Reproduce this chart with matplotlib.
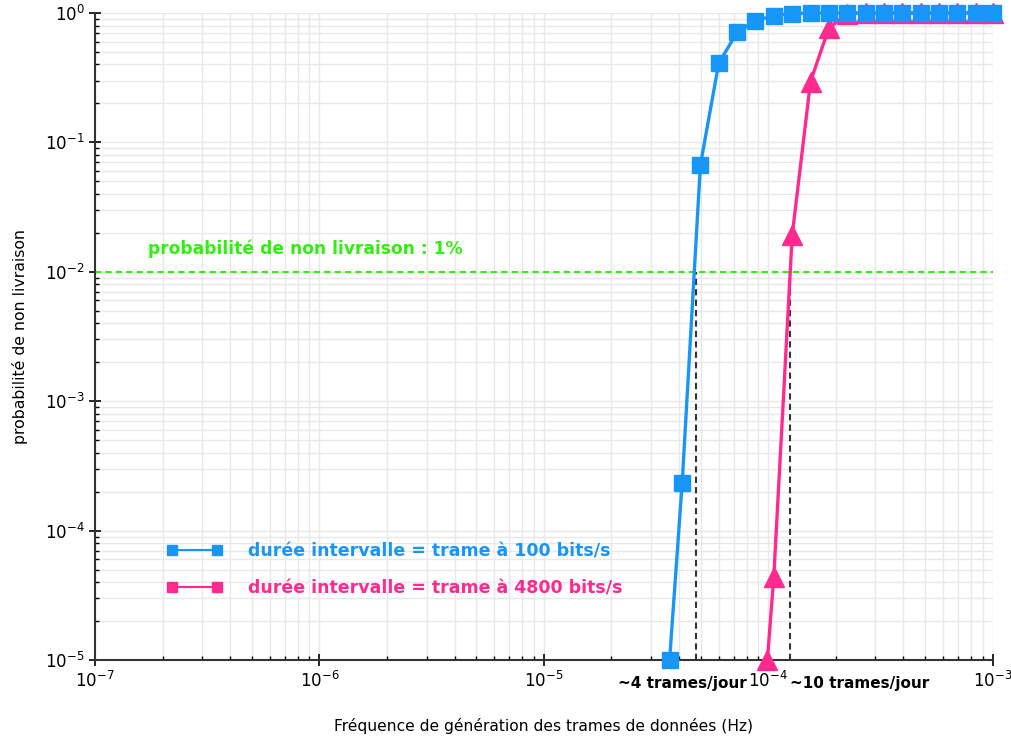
import matplotlib
matplotlib.use("Agg")
import matplotlib.pyplot as plt
from matplotlib.lines import Line2D
from matplotlib.transforms import blended_transform_factory

# frequence de generation (Hz) et probabilite de non livraison
freq_100 = [3.63e-5, 4.13e-5, 4.98e-5, 6.01e-5, 7.26e-5, 8.76e-5, 1.057e-4, 1.277e-4,
            1.541e-4, 1.859e-4, 2.245e-4, 2.709e-4, 3.269e-4, 3.950e-4, 4.766e-4,
            5.750e-4, 6.945e-4, 8.38e-4, 1.0e-3]
prob_100 = [1.0e-5, 2.33e-4, 0.0669, 0.409, 0.710, 0.869, 0.955, 0.99,
            0.997, 0.999, 1.0, 1.0, 1.0, 1.0, 1.0, 1.0, 1.0, 1.0, 1.0]

freq_4800 = [9.9e-5, 1.057e-4, 1.277e-4, 1.541e-4, 1.859e-4, 2.245e-4, 2.709e-4,
             3.269e-4, 3.950e-4, 4.766e-4, 5.750e-4, 6.945e-4, 8.38e-4, 1.0e-3]
prob_4800 = [1.0e-5, 4.38e-5, 0.0192, 0.295, 0.763, 0.99, 1.0, 1.0, 1.0, 1.0,
             1.0, 1.0, 1.0, 1.0]

seuil = 1e-2
croisements = [4.74e-5, 1.246e-4]
croisement_labels = ["~4 trames/jour", "~10 trames/jour"]

label_100 = "durée intervalle = trame à 100 bits/s"
label_4800 = "durée intervalle = trame à 4800 bits/s"

blue = "#1796f8"
pink = "#fe2a8e"
green = "#33ee11"

fig = plt.figure(figsize=(10.11, 7.41), dpi=100)
ax = fig.add_axes([0.094, 0.1093, 0.888, 0.8732])

ax.set_xscale("log")
ax.set_yscale("log")
ax.set_xlim(1e-7, 1e-3)
ax.set_ylim(1e-5, 1)

ax.grid(True, which="both", color="#e8e8e8", linewidth=1.0, zorder=0)
ax.set_axisbelow(True)

ax.plot(freq_4800, prob_4800, color=pink, lw=2.4, marker="^", ms=15,
        clip_on=False, zorder=3)
ax.plot(freq_100, prob_100, color=blue, lw=2.4, marker="s", ms=11,
        clip_on=False, zorder=4)

ax.axhline(seuil, color=green, ls=(0, (3, 2)), lw=1.5, zorder=2)
ax.text(1.72e-7, 1.28e-2, "probabilité de non livraison : 1%", color=green,
        fontsize=12.3, fontweight="bold", ha="left", va="bottom")

for xc in croisements:
    ax.plot([xc, xc], [1e-5, seuil], color="#333333", ls=(0, (3, 2)), lw=1.5, zorder=2)

# petits libelles sous l'axe x, pres des lignes pointillees
trans = blended_transform_factory(ax.transData, ax.transAxes)
ax.text(croisements[0] * 0.875, -0.025, croisement_labels[0], transform=trans,
        ha="center", va="top", fontsize=11, fontweight="bold")
ax.text(croisements[1], -0.025, croisement_labels[1], transform=trans,
        ha="left", va="top", fontsize=11, fontweight="bold")

for s in ["top", "right"]:
    ax.spines[s].set_visible(False)
for s in ["left", "bottom"]:
    ax.spines[s].set_linewidth(1.5)
    ax.spines[s].set_color("#333333")

ax.tick_params(which="major", direction="inout", length=8, width=1.2, labelsize=12)
ax.tick_params(which="minor", direction="in", length=3, width=1)

ax.set_xlabel("Fréquence de génération des trames de données (Hz)", fontsize=11.2, labelpad=20)
ax.set_ylabel("probabilité de non livraison", fontsize=11.3, labelpad=12)

handles = [Line2D([], [], color=blue, lw=1.5, marker="s", ms=7),
           Line2D([], [], color=pink, lw=1.5, marker="s", ms=7)]
leg = ax.legend(handles, [label_100, label_4800], loc="lower left",
                bbox_to_anchor=(0.062, 0.073), frameon=False, numpoints=2,
                handlelength=3.2, handletextpad=1.5, labelspacing=1.1,
                prop={"size": 12.5, "weight": "bold"})
for txt, col in zip(leg.get_texts(), [blue, pink]):
    txt.set_color(col)

fig.savefig("out.png", dpi=100)
